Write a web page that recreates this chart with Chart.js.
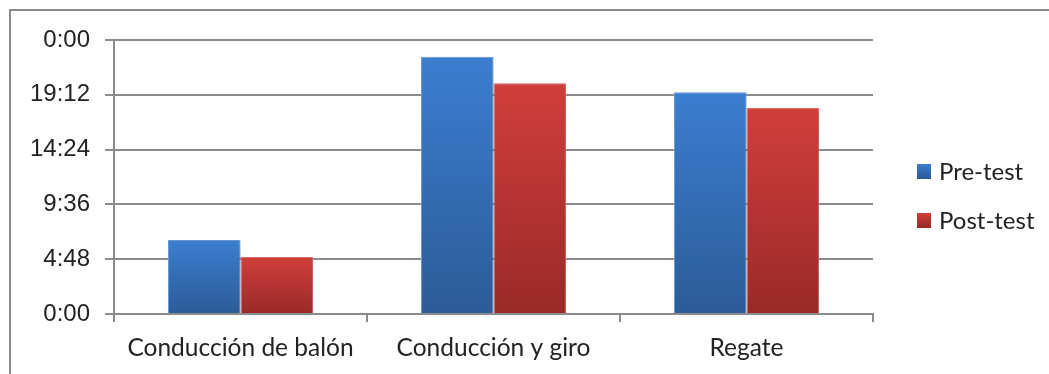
<!DOCTYPE html>
<html>
<head>
<meta charset="utf-8">
<script src="https://cdn.jsdelivr.net/npm/chart.js@4/dist/chart.umd.min.js"></script>
<style>
  html, body { margin: 0; padding: 0; background: #fff; overflow: hidden; }
  #wrap { position: relative; width: 1049px; height: 374px; }
</style>
</head>
<body>
<div id="wrap"><canvas id="chart" width="1049" height="374"></canvas></div>
<script>
// Test categories and times (hours of a day, shown as h:mm)
const categories = ['Conducción de balón', 'Conducción y giro', 'Regate'];
const preTest  = [6.48, 22.54, 19.42];
const postTest = [4.99, 20.21, 18.05];
const seriesNames = ['Pre-test', 'Post-test'];
const axisMax = 24;
const axisStep = 4.8;

const FONT = 'Lato, "Open Sans", sans-serif';
const NUM_FONT = '"Liberation Sans", Arial, sans-serif';
const TEXT = '#222222';
const GRID = '#8c8c8c';

// Top / bottom colours of each series' vertical gradient, plus a light edge
const palette = [
  { top: '#3b7ed0', bottom: '#2c5b98', flat: '#3670bb', edge: '#6b9fdc' },
  { top: '#d13e3b', bottom: '#992a28', flat: '#c03836', edge: '#e07270' }
];

function fmtTime(v) {
  const total = Math.round(v * 60);
  const h = Math.floor(total / 60) % 24;
  const m = total % 60;
  return h + ':' + String(m).padStart(2, '0');
}

function barFill(ctx, idx) {
  const chart = ctx.chart;
  const y = chart.scales && chart.scales.y;
  if (!y || ctx.type !== 'data' || !chart.chartArea) return palette[idx].flat;
  const v = ctx.raw;
  const top = y.getPixelForValue(v);
  const base = y.getPixelForValue(0);
  if (!isFinite(top) || !isFinite(base) || top === base) return palette[idx].flat;
  const g = chart.ctx.createLinearGradient(0, top, 0, base);
  g.addColorStop(0, palette[idx].top);
  g.addColorStop(1, palette[idx].bottom);
  return g;
}

// Frame lines along the top and left of the picture
const framePlugin = {
  id: 'frame',
  beforeDraw(chart) {
    const c = chart.ctx;
    c.save();
    c.strokeStyle = '#8a8a8a';
    c.lineWidth = 2;
    c.beginPath();
    c.moveTo(10, chart.height + 5);
    c.lineTo(10, 10);
    c.lineTo(chart.width + 5, 10);
    c.stroke();
    c.restore();
  }
};

// Soft drop shadow behind the bars
const barShadow = {
  id: 'barShadow',
  beforeDatasetsDraw(chart) {
    const c = chart.ctx;
    c.save();
    c.shadowColor = 'rgba(0,0,0,0.22)';
    c.shadowBlur = 5;
    c.shadowOffsetX = 2;
    c.shadowOffsetY = 1;
  },
  afterDatasetsDraw(chart) {
    chart.ctx.restore();
  }
};

// Legend drawn at the right of the plot
const sideLegend = {
  id: 'sideLegend',
  afterDraw(chart) {
    const c = chart.ctx;
    c.save();
    c.font = '24px ' + FONT;
    c.textBaseline = 'middle';
    c.textAlign = 'left';
    const rows = [171, 220];
    chart.data.datasets.forEach((ds, i) => {
      const cy = rows[i];
      const g = c.createLinearGradient(0, cy - 7, 0, cy + 7);
      g.addColorStop(0, palette[i].top);
      g.addColorStop(1, palette[i].bottom);
      c.fillStyle = g;
      c.fillRect(917, cy - 7, 14, 15);
      c.fillStyle = TEXT;
      c.fillText(ds.label, 939, cy + 1);
    });
    c.restore();
  }
};

new Chart(document.getElementById('chart'), {
  type: 'bar',
  data: {
    labels: categories,
    datasets: [
      { label: seriesNames[0], data: preTest,  backgroundColor: c => barFill(c, 0), borderColor: palette[0].edge },
      { label: seriesNames[1], data: postTest, backgroundColor: c => barFill(c, 1), borderColor: palette[1].edge }
    ]
  },
  options: {
    responsive: false,
    animation: false,
    devicePixelRatio: 1,
    layout: { padding: { left: 10, right: 176, top: 40, bottom: 0 } },
    datasets: { bar: { categoryPercentage: 0.573, barPercentage: 1, borderWidth: { top: 1, left: 1, right: 1, bottom: 0 } } },
    plugins: { legend: { display: false }, tooltip: { enabled: false } },
    scales: {
      x: {
        afterFit(s) { s.height = 60; },
        grid: { display: true, drawOnChartArea: false, drawTicks: true, tickLength: 8, offset: true, color: GRID, lineWidth: 2 },
        border: { display: true, color: GRID, width: 2 },
        ticks: { color: TEXT, font: { family: FONT, size: 24.5 }, padding: 11, maxRotation: 0 }
      },
      y: {
        min: 0,
        max: axisMax,
        afterFit(s) { s.width = 104; },
        afterBuildTicks(s) {
          const t = [];
          for (let i = 0; i * axisStep <= axisMax + 1e-9; i++) t.push({ value: i * axisStep });
          s.ticks = t;
        },
        grid: { color: GRID, lineWidth: 2, drawTicks: true, tickLength: 9 },
        border: { display: true, color: GRID, width: 2 },
        ticks: { color: TEXT, font: { family: NUM_FONT, size: 24 }, padding: 15, callback: v => fmtTime(v) }
      }
    }
  },
  plugins: [framePlugin, barShadow, sideLegend]
});
</script>
</body>
</html>
